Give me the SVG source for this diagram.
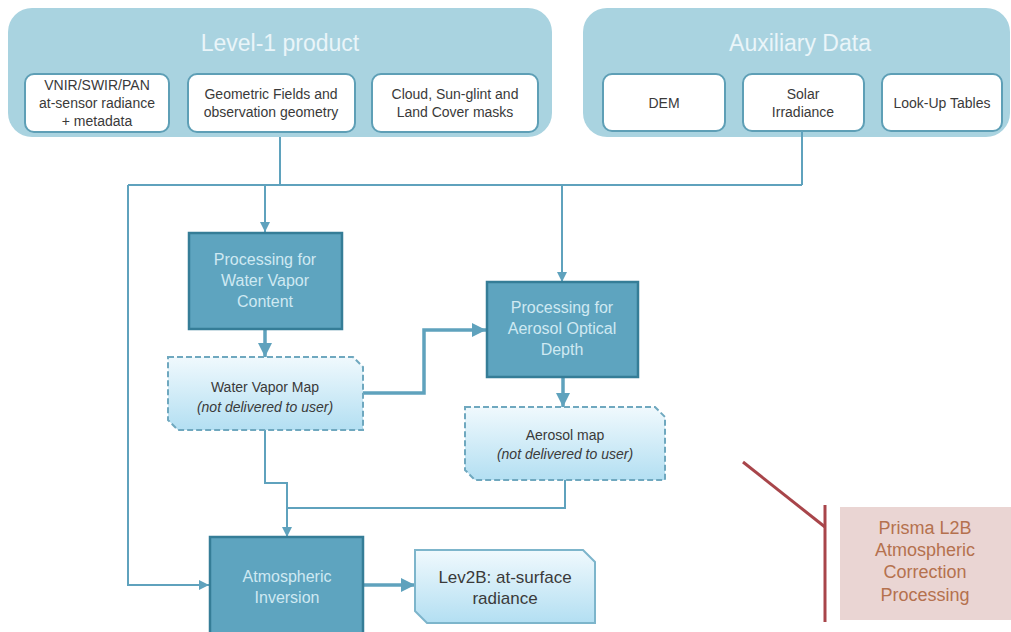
<svg xmlns="http://www.w3.org/2000/svg" width="1011" height="632" viewBox="0 0 1011 632">
<defs>
<linearGradient id="mapg" x1="0" y1="0" x2="0" y2="1">
<stop offset="0" stop-color="#f0f9fd"/>
<stop offset="1" stop-color="#b3dff2"/>
</linearGradient>
<marker id="ah" viewBox="0 0 10 10" refX="10" refY="5" markerWidth="10" markerHeight="10" markerUnits="userSpaceOnUse" orient="auto">
<path d="M0,0 L10,5 L0,10 Z" fill="#5fa2bd"/>
</marker>
<marker id="ahs" viewBox="0 0 10 10" refX="10" refY="5" markerWidth="4" markerHeight="4" markerUnits="strokeWidth" orient="auto">
<path d="M0,0 L10,5 L0,10 Z" fill="#5fa2bd"/>
</marker>
</defs>
<style>
.panel{fill:#a9d3e0;}
.ptitle{font-family:"Liberation Sans",Arial,sans-serif;font-size:23px;fill:#eaf5f9;text-anchor:middle;}
.inner{fill:#ffffff;stroke:#5e9fb6;stroke-width:2;}
.itext{font-family:"Liberation Sans",Arial,sans-serif;font-size:14px;fill:#3a3a3a;text-anchor:middle;}
.proc{fill:#5ea4bf;stroke:#357d97;stroke-width:2.5;}
.ptext{font-family:"Liberation Sans",Arial,sans-serif;font-size:16px;fill:#cfe9f2;text-anchor:middle;}
.map{fill:url(#mapg);stroke:#6fa8bf;stroke-width:2;stroke-dasharray:6 3;}
.out{fill:url(#mapg);stroke:#7db5cb;stroke-width:2;}
.mtext{font-family:"Liberation Sans",Arial,sans-serif;font-size:14px;fill:#3a3a3a;text-anchor:middle;}
.otext{font-family:"Liberation Sans",Arial,sans-serif;font-size:17px;fill:#3a3a3a;text-anchor:middle;}
.conn{fill:none;stroke:#5fa2bd;stroke-width:2;}
.thick{fill:none;stroke:#5fa2bd;stroke-width:3.5;}
.red{fill:none;stroke:#a8454a;stroke-width:3;}
.ltext{font-family:"Liberation Sans",Arial,sans-serif;font-size:18px;fill:#b5714e;text-anchor:middle;}
</style>

<g id="level1">
<rect class="panel" x="8" y="8" width="544" height="129" rx="24"/>
<text class="ptitle" x="280" y="51">Level-1 product</text>
</g>
<g id="vnir">
<rect class="inner" x="25" y="74" width="144" height="58" rx="9"/>
<text class="itext" x="97" y="90">VNIR/SWIR/PAN</text>
<text class="itext" x="97" y="108">at-sensor radiance</text>
<text class="itext" x="97" y="126">+ metadata</text>
</g>
<g id="geometric">
<rect class="inner" x="188" y="74" width="167" height="58" rx="9"/>
<text class="itext" x="271" y="99">Geometric Fields and</text>
<text class="itext" x="271" y="117">observation geometry</text>
</g>
<g id="cloud">
<rect class="inner" x="372" y="74" width="166" height="58" rx="9"/>
<text class="itext" x="455" y="99">Cloud, Sun-glint and</text>
<text class="itext" x="455" y="117">Land Cover masks</text>
</g>

<g id="auxiliary">
<rect class="panel" x="583" y="8" width="427" height="129" rx="24"/>
<text class="ptitle" x="800" y="51">Auxiliary Data</text>
</g>
<g id="dem">
<rect class="inner" x="603" y="74" width="122" height="57" rx="9"/>
<text class="itext" x="664" y="108">DEM</text>
</g>
<g id="solar">
<rect class="inner" x="743" y="74" width="121" height="57" rx="9"/>
<text class="itext" x="803" y="99">Solar</text>
<text class="itext" x="803" y="117">Irradiance</text>
</g>
<g id="lut">
<rect class="inner" x="882" y="74" width="120" height="57" rx="9"/>
<text class="itext" x="942" y="108">Look-Up Tables</text>
</g>

<g id="connectors">
<path class="conn" d="M280,137 V185"/>
<path class="conn" d="M802,131 V185"/>
<path class="conn" d="M128,185 H802"/>
<path class="conn" d="M128,185 V585 H209" marker-end="url(#ah)"/>
<path class="conn" d="M265,185 V232" marker-end="url(#ah)"/>
<path class="conn" d="M562,185 V282" marker-end="url(#ah)"/>
<path class="thick" d="M265,329 V357" marker-end="url(#ahs)"/>
<path class="thick" d="M363,393 H424 V330 H486" marker-end="url(#ahs)"/>
<path class="thick" d="M563,377 V407" marker-end="url(#ahs)"/>
<path class="conn" d="M265,430 V483 H287 V537" marker-end="url(#ah)"/>
<path class="conn" d="M565,480 V508 H287"/>
<path class="thick" d="M363,585 H415" marker-end="url(#ahs)"/>
</g>

<g id="wv-proc">
<rect class="proc" x="189" y="233" width="153" height="96"/>
<text class="ptext" x="265" y="265">Processing for</text>
<text class="ptext" x="265" y="286">Water Vapor</text>
<text class="ptext" x="265" y="307">Content</text>
</g>
<g id="wv-map">
<path class="map" d="M168,357 H353 L363,367 V430 H178 L168,420 Z"/>
<text class="mtext" x="265" y="392">Water Vapor Map</text>
<text class="mtext" x="265" y="412" font-style="italic">(not delivered to user)</text>
</g>
<g id="aod-proc">
<rect class="proc" x="487" y="282" width="151" height="95"/>
<text class="ptext" x="562" y="313">Processing for</text>
<text class="ptext" x="562" y="334">Aerosol Optical</text>
<text class="ptext" x="562" y="355">Depth</text>
</g>
<g id="aod-map">
<path class="map" d="M465,407 H655 L665,417 V480 H475 L465,470 Z"/>
<text class="mtext" x="565" y="440">Aerosol map</text>
<text class="mtext" x="565" y="459" font-style="italic">(not delivered to user)</text>
</g>
<g id="atmo-inv">
<rect class="proc" x="210" y="537" width="153" height="100"/>
<text class="ptext" x="287" y="582">Atmospheric</text>
<text class="ptext" x="287" y="603">Inversion</text>
</g>
<g id="lev2b">
<path class="out" d="M415,550 H583 L595,562 V623 H427 L415,611 Z"/>
<text class="otext" x="505" y="583">Lev2B: at-surface</text>
<text class="otext" x="505" y="604">radiance</text>
</g>

<g id="legend">
<path class="red" d="M743,462 L825,527"/>
<path class="red" d="M825,505 V622"/>
<rect x="840" y="507" width="171" height="113" fill="#ead5d3"/>
<text class="ltext" x="925" y="534">Prisma L2B</text>
<text class="ltext" x="925" y="556">Atmospheric</text>
<text class="ltext" x="925" y="578">Correction</text>
<text class="ltext" x="925" y="601">Processing</text>
</g>
</svg>
